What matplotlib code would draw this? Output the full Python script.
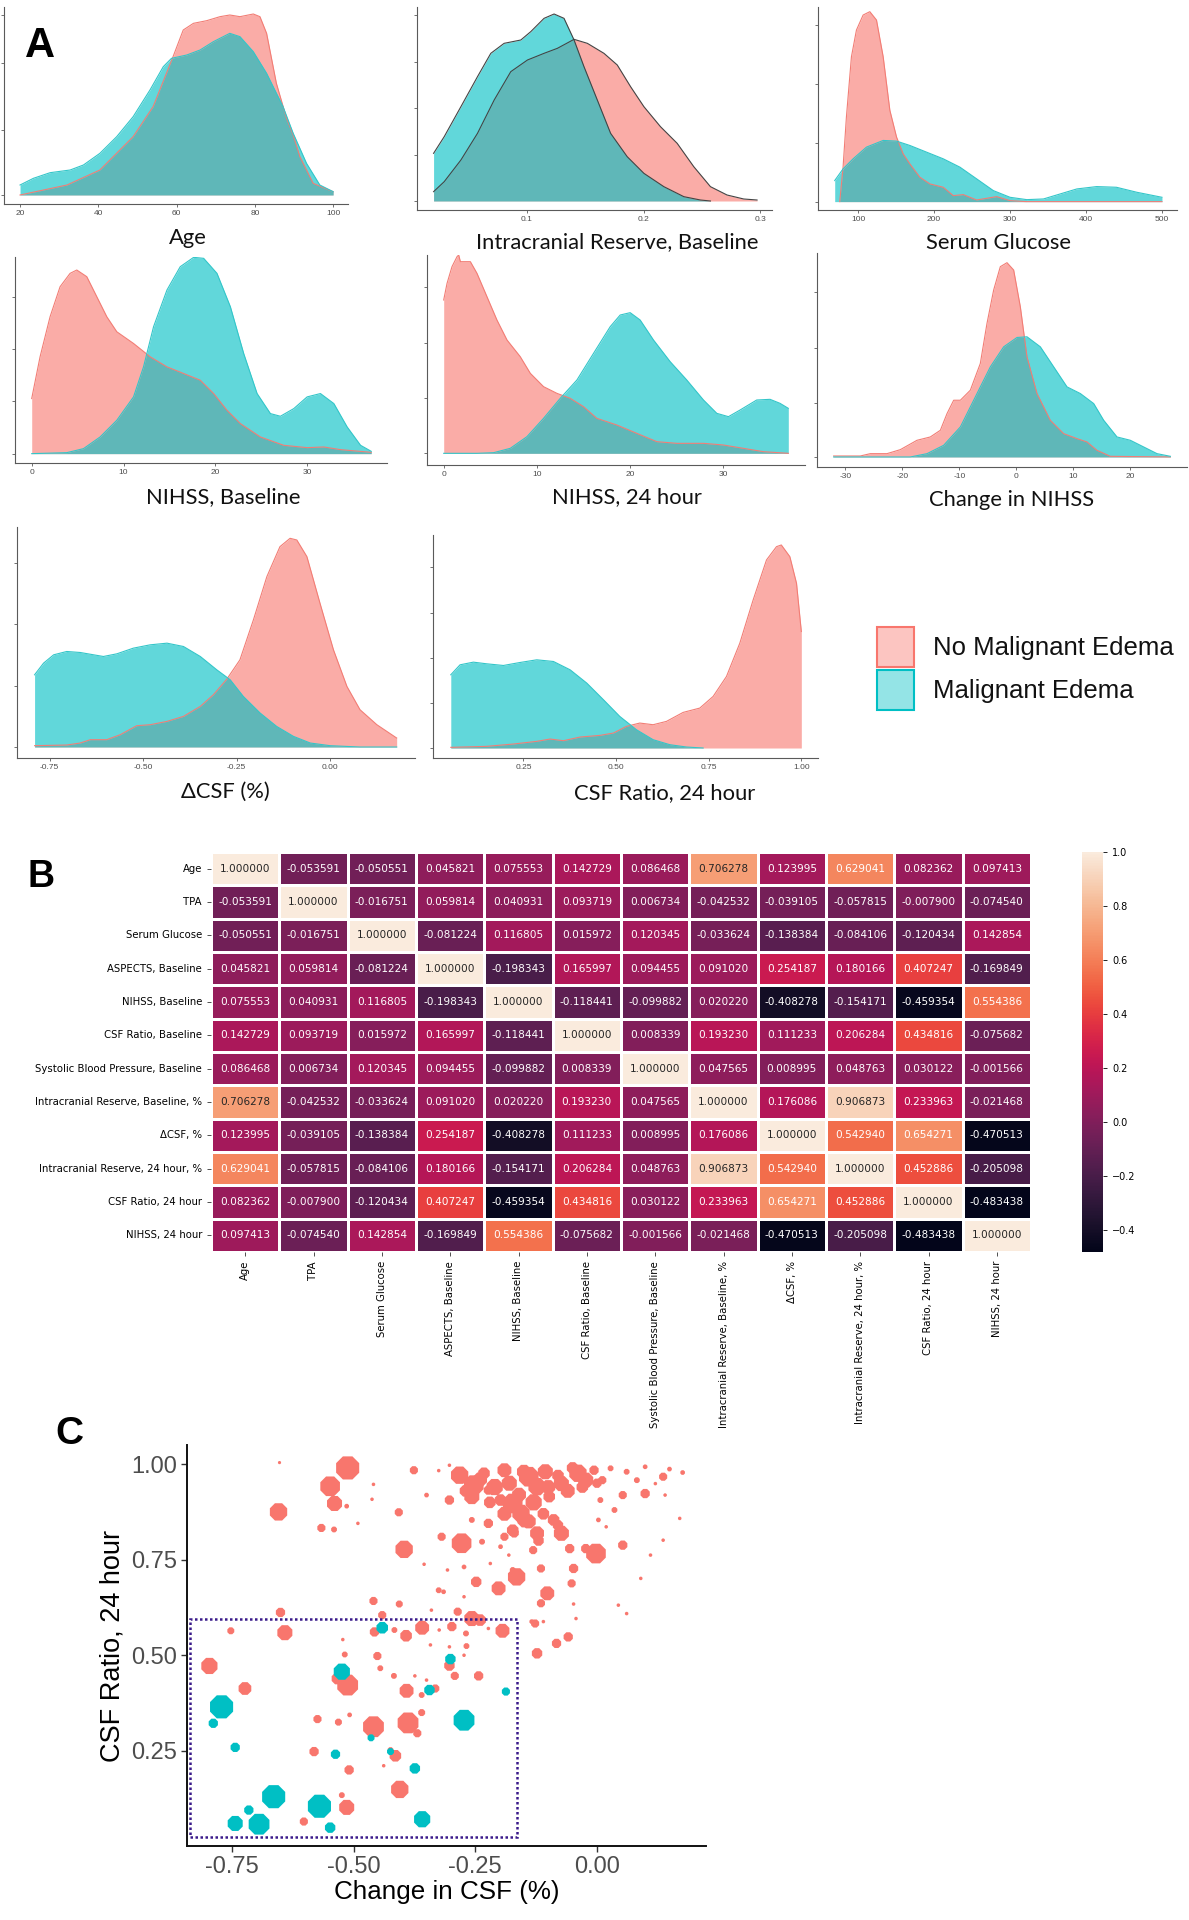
import numpy as np
import matplotlib
matplotlib.use("Agg")
import matplotlib.pyplot as plt
from matplotlib.patches import Rectangle
import seaborn as sns

W, H = 1189, 1920
RED = "#F8766D"
TEAL = "#00BFC4"
GGFONT = ["Liberation Sans", "DejaVu Sans"]
TITLEFONT = ["Lato", "DejaVu Sans"]

# ---------------- Panel A: density curves (relative heights) ----------------
AGE_NO_X = [20, 32, 40.4, 48.9, 54, 59.1, 61.7, 64.3, 67.7, 71.1, 73.6, 76.2, 79.6, 81.3, 83, 85.5, 88.1, 89.8, 91.5, 94.9, 100]
AGE_NO_Y = [0, 30, 75, 175, 265, 415, 495, 515, 523, 535, 540, 535, 543, 535, 485, 335, 230, 180, 115, 35, 10]
AGE_ME_X = [20, 23.4, 27.7, 32.8, 36.2, 40.4, 44.7, 48.9, 53.2, 56.6, 58.7, 62.6, 66, 69.4, 73.6, 76.2, 79.6, 83, 87.2, 89.8, 93.2, 96.6, 100]
AGE_ME_Y = [30, 50, 67, 75, 90, 125, 175, 235, 315, 385, 410, 420, 435, 460, 485, 475, 430, 365, 265, 185, 95, 30, 10]

ICR_NO_X = [0.0202, 0.0293, 0.0436, 0.0578, 0.0721, 0.0863, 0.1006, 0.1148, 0.1262, 0.1405, 0.1519, 0.1661, 0.1775, 0.1889, 0.2003, 0.2145, 0.2288, 0.2430, 0.2573, 0.2715, 0.2858, 0.2972]
ICR_NO_Y = [28, 58, 123, 203, 303, 388, 423, 443, 458, 485, 473, 443, 408, 343, 283, 223, 173, 103, 43, 18, 6, 3]
ICR_ME_X = [0.0202, 0.0293, 0.0436, 0.0578, 0.0692, 0.0806, 0.0949, 0.1034, 0.1148, 0.1234, 0.1319, 0.1405, 0.1490, 0.1604, 0.1718, 0.1860, 0.2003, 0.2174, 0.2345, 0.2487, 0.2573]
ICR_ME_Y = [143, 193, 283, 373, 443, 473, 483, 508, 548, 561, 548, 483, 403, 303, 203, 133, 83, 43, 13, 3, 0]

GLU_NO_X = [75.8, 80.2, 84.6, 91.2, 97.8, 106.6, 115.4, 124.2, 133, 141.8, 150.6, 159.3, 168.1, 181.3, 194.5, 212.1, 225.3, 238.5, 256.1, 282.4, 300, 322, 500]
GLU_NO_Y = [0, 103, 253, 433, 513, 558, 568, 543, 433, 273, 193, 143, 113, 73, 53, 43, 18, 21, 5, 15, 3, 0, 0]
GLU_ME_X = [69.2, 80.2, 93.4, 111, 133, 150.6, 168.1, 190.1, 212.1, 234.1, 256.1, 278, 300, 322, 344, 366, 388, 414, 440, 467, 500]
GLU_ME_Y = [63, 98, 128, 163, 183, 181, 168, 148, 128, 103, 68, 33, 13, 6, 8, 23, 38, 45, 43, 28, 13]

NB_NO_X = [0, 0.91, 2, 3.09, 4.18, 4.91, 6, 7.09, 8.18, 9.27, 11.09, 12.91, 14.73, 16.55, 18.36, 19.82, 21.27, 22.73, 24.91, 27.45, 30, 31.82, 33.64, 36.98]
NB_NO_Y = [165, 290, 410, 500, 540, 550, 530, 470, 410, 365, 330, 290, 260, 240, 220, 180, 130, 90, 50, 25, 18, 20, 12, 4]
NB_ME_X = [0, 3.82, 5.64, 7.45, 9.27, 11.09, 12.18, 13.27, 14.73, 16.18, 17.64, 18.73, 20.18, 21.64, 23.09, 24.55, 26, 27.09, 28.55, 30, 31.45, 32.91, 34.36, 35.82, 36.98]
NB_ME_Y = [0, 3, 15, 50, 100, 170, 260, 380, 490, 560, 588, 585, 540, 440, 300, 180, 120, 112, 135, 170, 180, 150, 80, 25, 7]

N24_NO_X = [0, 0.36, 0.89, 1.43, 1.61, 1.79, 2.86, 3.57, 4.64, 5.71, 6.79, 8.21, 9.29, 10.71, 12.14, 13.57, 15, 16.43, 18.57, 20.71, 22.86, 25, 27.86, 30, 32.14, 34.29, 36.96]
N24_NO_Y = [460, 510, 560, 590, 595, 575, 575, 540, 470, 400, 340, 290, 240, 200, 180, 165, 140, 105, 85, 60, 35, 30, 30, 25, 15, 5, 0]
N24_ME_X = [0, 3.57, 5.36, 7.14, 8.93, 10.71, 12.5, 14.29, 16.07, 17.86, 18.93, 20, 21.07, 22.5, 24.29, 26.07, 27.86, 29.29, 30.54, 31.79, 33.57, 35, 36.07, 36.96]
N24_ME_Y = [0, 0, 2, 15, 50, 105, 165, 220, 300, 380, 415, 422, 400, 340, 275, 220, 160, 120, 110, 130, 160, 162, 150, 135]

CN_NO_X = [-32.05, -27.37, -25.61, -22.69, -20.35, -17.43, -15.09, -13.33, -12.16, -10.99, -9.82, -8.07, -6.32, -5.15, -3.98, -2.81, -1.64, -0.47, 0.70, 1.87, 3.63, 5.96, 8.30, 10.64, 12.40, 14.15, 16.49, 27.02]
CN_NO_Y = [3, 3, 10, 10, 22, 50, 60, 80, 130, 170, 170, 200, 280, 400, 500, 570, 582, 560, 450, 300, 190, 110, 70, 55, 45, 20, 2, 0]
CN_ME_X = [-32.05, -18.6, -15.67, -12.75, -9.82, -6.9, -4.56, -2.22, 0.12, 1.87, 4.21, 6.55, 8.89, 11.23, 13.57, 15.32, 17.66, 20, 22.34, 24.68, 27.02]
CN_ME_Y = [0, 0, 10, 35, 90, 190, 270, 330, 358, 360, 330, 270, 210, 190, 160, 110, 60, 50, 30, 10, 2]

DC_NO_X = [-0.790, -0.704, -0.668, -0.641, -0.597, -0.561, -0.517, -0.481, -0.436, -0.392, -0.347, -0.312, -0.276, -0.241, -0.205, -0.169, -0.134, -0.107, -0.089, -0.062, -0.027, 0.009, 0.045, 0.080, 0.125, 0.178]
DC_NO_Y = [4, 6, 12, 22, 22, 37, 64, 67, 77, 92, 122, 157, 204, 262, 382, 512, 602, 627, 622, 572, 432, 292, 182, 112, 67, 27]
DC_ME_X = [-0.790, -0.766, -0.739, -0.704, -0.668, -0.632, -0.606, -0.570, -0.526, -0.481, -0.436, -0.392, -0.347, -0.303, -0.267, -0.232, -0.187, -0.143, -0.098, -0.053, 0.0, 0.080, 0.178]
DC_ME_Y = [217, 252, 277, 287, 284, 277, 272, 280, 297, 307, 312, 302, 272, 232, 202, 152, 102, 62, 32, 12, 4, 0, 0]

CR_NO_X = [0.054, 0.151, 0.223, 0.286, 0.322, 0.358, 0.403, 0.457, 0.493, 0.528, 0.564, 0.600, 0.636, 0.681, 0.726, 0.762, 0.798, 0.834, 0.870, 0.906, 0.933, 0.946, 0.969, 0.987, 1.0]
CR_NO_Y = [2, 5, 12, 20, 27, 22, 33, 38, 45, 65, 75, 70, 80, 107, 120, 155, 215, 315, 445, 565, 605, 610, 575, 495, 350]
CR_ME_X = [0.054, 0.079, 0.115, 0.151, 0.196, 0.241, 0.286, 0.331, 0.376, 0.421, 0.466, 0.510, 0.555, 0.600, 0.645, 0.690, 0.735]
CR_ME_Y = [220, 250, 258, 253, 248, 257, 265, 260, 235, 195, 145, 95, 55, 25, 10, 3, 0]

DENSITY_TITLES = ["Age", "Intracranial Reserve, Baseline", "Serum Glucose",
                  "NIHSS, Baseline", "NIHSS, 24 hour", "Change in NIHSS",
                  "\u0394CSF (%)", "CSF Ratio, 24 hour"]
DENSITY_XTICKS = [[20, 40, 60, 80, 100], [0.1, 0.2, 0.3], [100, 200, 300, 400, 500],
                  [0, 10, 20, 30], [0, 10, 20, 30], [-30, -20, -10, 0, 10, 20],
                  [-0.75, -0.50, -0.25, 0.00], [0.25, 0.50, 0.75, 1.00]]
DENSITY_XTICKLABELS = [["20", "40", "60", "80", "100"], ["0.1", "0.2", "0.3"],
                       ["100", "200", "300", "400", "500"], ["0", "10", "20", "30"],
                       ["0", "10", "20", "30"], ["-30", "-20", "-10", "0", "10", "20"],
                       ["-0.75", "-0.50", "-0.25", "0.00"], ["0.25", "0.50", "0.75", "1.00"]]
DENSITY_DATA = [(AGE_NO_X, AGE_NO_Y, AGE_ME_X, AGE_ME_Y), (ICR_NO_X, ICR_NO_Y, ICR_ME_X, ICR_ME_Y),
                (GLU_NO_X, GLU_NO_Y, GLU_ME_X, GLU_ME_Y), (NB_NO_X, NB_NO_Y, NB_ME_X, NB_ME_Y),
                (N24_NO_X, N24_NO_Y, N24_ME_X, N24_ME_Y), (CN_NO_X, CN_NO_Y, CN_ME_X, CN_ME_Y),
                (DC_NO_X, DC_NO_Y, DC_ME_X, DC_ME_Y), (CR_NO_X, CR_NO_Y, CR_ME_X, CR_ME_Y)]
LEGEND_LABELS = ["No Malignant Edema", "Malignant Edema"]

# ---------------- Panel B: correlation matrix ----------------
CORR_LABELS = ["Age", "TPA", "Serum Glucose", "ASPECTS, Baseline", "NIHSS, Baseline",
               "CSF Ratio, Baseline", "Systolic Blood Pressure, Baseline",
               "Intracranial Reserve, Baseline, %", "\u0394CSF, %",
               "Intracranial Reserve, 24 hour, %", "CSF Ratio, 24 hour", "NIHSS, 24 hour"]
CORR = [
    [1.000000, -0.053591, -0.050551, 0.045821, 0.075553, 0.142729, 0.086468, 0.706278, 0.123995, 0.629041, 0.082362, 0.097413],
    [-0.053591, 1.000000, -0.016751, 0.059814, 0.040931, 0.093719, 0.006734, -0.042532, -0.039105, -0.057815, -0.007900, -0.074540],
    [-0.050551, -0.016751, 1.000000, -0.081224, 0.116805, 0.015972, 0.120345, -0.033624, -0.138384, -0.084106, -0.120434, 0.142854],
    [0.045821, 0.059814, -0.081224, 1.000000, -0.198343, 0.165997, 0.094455, 0.091020, 0.254187, 0.180166, 0.407247, -0.169849],
    [0.075553, 0.040931, 0.116805, -0.198343, 1.000000, -0.118441, -0.099882, 0.020220, -0.408278, -0.154171, -0.459354, 0.554386],
    [0.142729, 0.093719, 0.015972, 0.165997, -0.118441, 1.000000, 0.008339, 0.193230, 0.111233, 0.206284, 0.434816, -0.075682],
    [0.086468, 0.006734, 0.120345, 0.094455, -0.099882, 0.008339, 1.000000, 0.047565, 0.008995, 0.048763, 0.030122, -0.001566],
    [0.706278, -0.042532, -0.033624, 0.091020, 0.020220, 0.193230, 0.047565, 1.000000, 0.176086, 0.906873, 0.233963, -0.021468],
    [0.123995, -0.039105, -0.138384, 0.254187, -0.408278, 0.111233, 0.008995, 0.176086, 1.000000, 0.542940, 0.654271, -0.470513],
    [0.629041, -0.057815, -0.084106, 0.180166, -0.154171, 0.206284, 0.048763, 0.906873, 0.542940, 1.000000, 0.452886, -0.205098],
    [0.082362, -0.007900, -0.120434, 0.407247, -0.459354, 0.434816, 0.030122, 0.233963, 0.654271, 0.452886, 1.000000, -0.483438],
    [0.097413, -0.074540, 0.142854, -0.169849, 0.554386, -0.075682, -0.001566, -0.021468, -0.470513, -0.205098, -0.483438, 1.000000],
]

# ---------------- Panel C: scatter (x = change in CSF, y = CSF ratio 24 h, d = point size) ----------------
NO_X = [-0.652, -0.512, -0.548, -0.539, -0.514, -0.654, -0.566, -0.540, -0.491, -0.459,
        -0.462, -0.407, -0.396, -0.355, -0.350, -0.376, -0.325, -0.303, -0.282, -0.253,
        -0.257, -0.232, -0.223, -0.190, -0.173, -0.198, -0.156, -0.140, -0.123, -0.106,
        -0.098, -0.073, -0.039, -0.023, -0.006, 0.011, 0.028, 0.061, 0.082, 0.099,
        0.120, 0.136, 0.149, 0.176, 0.170, 0.136, 0.110, 0.090, 0.099, 0.140,
        0.053, 0.053, 0.036, 0.019, -0.002, -0.023, -0.056, -0.048, -0.052, -0.073,
        -0.089, -0.123, -0.148, -0.173, -0.190, -0.223, -0.257, -0.278, -0.303, -0.319,
        -0.236, -0.198, -0.131, -0.115, -0.165, -0.173, -0.202, -0.248, -0.102, -0.115,
        -0.043, 0.044, 0.061, -0.219, -0.273, -0.307, -0.325, -0.315, -0.273, -0.286,
        -0.257, -0.240, -0.194, -0.127, -0.110, -0.123, -0.083, -0.059, -0.079, -0.181,
        -0.340, -0.324, -0.298, -0.269, -0.223, -0.459, -0.406, -0.441, -0.457, -0.416,
        -0.392, -0.359, -0.650, -0.641, -0.752, -0.796, -0.723, -0.522, -0.518, -0.451,
        -0.445, -0.417, -0.391, -0.360, -0.350, -0.374, -0.342, -0.332, -0.303, -0.292,
        -0.268, -0.243, -0.303, -0.273, -0.512, -0.533, -0.574, -0.531, -0.508, -0.459,
        -0.388, -0.369, -0.360, -0.414, -0.424, -0.438, -0.581, -0.509, -0.405, -0.514,
        -0.524, -0.602, -0.048, -0.134, 0.003, 0.007,
        -0.240, -0.210, -0.180, -0.160, -0.130, -0.100, -0.080, -0.060, -0.030, -0.150,
        -0.190, -0.140, -0.110, -0.220, -0.270, -0.050, 0.000, -0.080, -0.170, -0.120]
NO_Y = [1.004, 0.990, 0.942, 0.897, 0.890, 0.875, 0.833, 0.829, 0.845, 0.947,
        0.908, 0.874, 0.777, 0.738, 0.919, 0.984, 0.983, 0.997, 0.971, 0.945,
        0.915, 0.976, 0.932, 0.984, 0.897, 0.906, 0.871, 0.967, 0.941, 0.980,
        0.915, 0.949, 0.976, 0.958, 0.984, 0.958, 0.989, 0.980, 0.958, 0.993,
        0.949, 0.967, 0.987, 0.978, 0.858, 0.801, 0.762, 0.701, 0.923, 0.919,
        0.788, 0.919, 0.880, 0.836, 0.766, 0.779, 0.779, 0.727, 0.688, 0.819,
        0.854, 0.819, 0.854, 0.827, 0.810, 0.845, 0.854, 0.793, 0.906, 0.810,
        0.797, 0.784, 0.775, 0.727, 0.705, 0.723, 0.675, 0.692, 0.662, 0.636,
        0.596, 0.631, 0.609, 0.740, 0.731, 0.723, 0.670, 0.666, 0.653, 0.614,
        0.596, 0.592, 0.564, 0.583, 0.588, 0.505, 0.531, 0.548, 0.819, 0.762,
        0.618, 0.566, 0.575, 0.557, 0.570, 0.642, 0.634, 0.605, 0.561, 0.566,
        0.551, 0.572, 0.612, 0.559, 0.564, 0.472, 0.413, 0.541, 0.502, 0.498,
        0.466, 0.446, 0.407, 0.396, 0.435, 0.446, 0.527, 0.413, 0.473, 0.446,
        0.524, 0.446, 0.522, 0.500, 0.422, 0.439, 0.333, 0.325, 0.344, 0.313,
        0.323, 0.296, 0.350, 0.237, 0.252, 0.211, 0.248, 0.200, 0.149, 0.102,
        0.134, 0.065, 0.634, 0.588, 0.854, 0.906,
        0.960, 0.940, 0.950, 0.920, 0.900, 0.940, 0.970, 0.930, 0.940, 0.980,
        0.870, 0.850, 0.870, 0.900, 0.930, 0.990, 0.950, 0.840, 0.820, 0.800]
NO_D = [2.7, 20, 17, 13, 4, 15, 7, 5, 3, 3,
        3, 7, 15, 3, 4, 7, 3, 3, 15, 17,
        13, 10, 8, 12, 17, 10, 15, 17, 15, 13,
        10, 13, 15, 13, 8, 7, 5, 5, 5, 4,
        3, 7, 4, 4, 3, 3, 3, 3, 8, 3,
        8, 7, 5, 3, 17, 8, 8, 8, 7, 13,
        10, 12, 13, 10, 7, 8, 5, 17, 8, 7,
        5, 4, 7, 7, 15, 5, 12, 9, 12, 7,
        3, 3, 3, 3, 4, 3, 5, 4, 3, 7,
        13, 10, 12, 7, 3, 9, 8, 8, 5, 3,
        3, 3, 8, 5, 3, 7, 6, 7, 8, 5,
        10, 12, 8, 13, 6, 14, 11, 3, 5, 7,
        5, 5, 12, 5, 3, 3, 3, 7, 9, 7,
        5, 8, 3, 3, 18, 10, 7, 6, 4, 18,
        18, 7, 6, 10, 5, 3, 8, 8, 15, 13,
        5, 7, 3, 4, 4, 5,
        12, 14, 13, 12, 14, 12, 10, 12, 10, 12,
        12, 12, 10, 10, 10, 10, 8, 9, 8, 9]
ME_X = [-0.441, -0.524, -0.301, -0.344, -0.187, -0.771, -0.788, -0.743, -0.537, -0.464,
        -0.424, -0.374, -0.273, -0.664, -0.570, -0.715, -0.743, -0.694, -0.548, -0.359]
ME_Y = [0.572, 0.457, 0.490, 0.409, 0.405, 0.365, 0.322, 0.259, 0.241, 0.284,
        0.248, 0.204, 0.330, 0.130, 0.105, 0.095, 0.060, 0.058, 0.049, 0.071]
ME_D = [10, 14, 9, 9, 7, 20, 8, 8, 8, 6, 6, 9, 18, 20, 20, 8, 13, 18, 9, 14]
BOX_X = (-0.835, -0.165)
BOX_Y = (0.025, 0.596)

# ---------------- layout (pixel boxes in the 1189x1920 canvas) ----------------
DENSITY_BOXES = [(4, 7, 348, 204), (417, 7, 772, 210), (818, 7, 1177, 210),
                 (15, 257, 387, 463), (427, 255, 805, 465), (817, 253, 1187, 467),
                 (17, 527, 415, 758), (433, 535, 818, 758)]
DENSITY_XLIM = [(15.9, 103.8), (0.006, 0.31), (47.2, 519.8), (-1.82, 38.7),
                (-1.79, 38.75), (-34.97, 29.94), (-0.837, 0.227), (0.006, 1.045)]
DENSITY_YLIM = [(-27, 564), (-27, 582), (-25, 582), (-28, 589),
                (-35, 595), (-30, 611), (-33, 661), (-30, 640)]
DENSITY_YTICKS = [[0, 195, 397, 540], [0, 138, 278, 418, 558], [0, 175, 351, 528],
                  [0, 157, 313, 470], [0, 166, 332, 498], [0, 163, 327, 493],
                  [0, 184, 369, 554], [0, 135, 271, 407, 543]]
TITLE_POS = [(188, 238), (617, 242), (998, 243), (223, 497), (627, 497),
             (1012, 500), (225, 792), (665, 793)]

fig = plt.figure(figsize=(W / 100, H / 100), dpi=100)


def px_axes(l, t, r, b):
    return fig.add_axes([l / W, 1 - b / H, (r - l) / W, (b - t) / H])


for i, (nx, ny, mx, my) in enumerate(DENSITY_DATA):
    ax = px_axes(*DENSITY_BOXES[i])
    dark_edge = (i == 1)
    ax.fill_between(nx, 0, ny, color=RED, alpha=0.6, lw=0)
    ax.plot(nx, ny, color="#444444" if dark_edge else "#F27D75", lw=0.8)
    ax.fill_between(mx, 0, my, color=TEAL, alpha=0.62, lw=0)
    ax.plot(mx, my, color="#444444" if dark_edge else "#33C6C9", lw=0.8)
    ax.set_xlim(*DENSITY_XLIM[i])
    ax.set_ylim(*DENSITY_YLIM[i])
    ax.set_xticks(DENSITY_XTICKS[i])
    ax.set_xticklabels(DENSITY_XTICKLABELS[i], fontsize=6, color="#4D4D4D",
                       family=GGFONT)
    ax.set_yticks(DENSITY_YTICKS[i])
    ax.set_yticklabels([])
    for s in ("top", "right"):
        ax.spines[s].set_visible(False)
    for s in ("left", "bottom"):
        ax.spines[s].set_color("#5A5A5A")
        ax.spines[s].set_linewidth(0.8)
    ax.tick_params(length=2, width=0.6, color="#5A5A5A", pad=2)
    cx, cy = TITLE_POS[i]
    fig.text(cx / W, 1 - cy / H, DENSITY_TITLES[i], ha="center", va="center",
             fontsize=15.8, family=TITLEFONT, color="#111111")

# legend drawn as two swatches with labels
for j, (col, lab) in enumerate(zip([RED, TEAL], LEGEND_LABELS)):
    top = 627 + j * 43
    fig.patches.append(Rectangle((877 / W, 1 - (top + 40) / H), 37 / W, 40 / H,
                                 transform=fig.transFigure, facecolor=col, alpha=0.42,
                                 edgecolor="none"))
    fig.patches.append(Rectangle((877 / W, 1 - (top + 40) / H), 37 / W, 40 / H,
                                 transform=fig.transFigure, facecolor="none",
                                 edgecolor=col, lw=1.5))
    fig.text(933 / W, 1 - (top + 21) / H, lab, fontsize=18.5, family=GGFONT,
             va="center", ha="left", color="#111111")

# panel letters
fig.text(25 / W, 1 - 57 / H, "A", fontsize=30, fontweight="bold", family=GGFONT, va="baseline")
fig.text(27 / W, 1 - 887 / H, "B", fontsize=27, fontweight="bold", family=GGFONT, va="baseline")
fig.text(55 / W, 1 - 1444 / H, "C", fontsize=28, fontweight="bold", family=GGFONT, va="baseline")

# ---------------- Panel B heatmap ----------------
ax_hm = px_axes(211, 852, 1031, 1252)
cax = px_axes(1082, 852, 1103, 1252)
sns.heatmap(np.array(CORR), ax=ax_hm, cbar_ax=cax, cmap="rocket", annot=True,
            fmt=".6f", annot_kws={"size": 7.6}, linewidths=1.0, linecolor="white",
            xticklabels=CORR_LABELS, yticklabels=CORR_LABELS)
ax_hm.tick_params(length=3, width=0.6, color="#333333")
ax_hm.set_yticklabels(CORR_LABELS, rotation=0, fontsize=7.3)
ax_hm.set_xticklabels(CORR_LABELS, rotation=90, fontsize=7.3)
cax.tick_params(labelsize=7, length=3, width=0.6)

# ---------------- Panel C scatter ----------------
axc = px_axes(187, 1445, 706, 1846)
axc.scatter(NO_X, NO_Y, s=(np.array(NO_D) * 0.9) ** 2, marker="8", color=RED,
            linewidths=0, zorder=2)
axc.scatter(ME_X, ME_Y, s=(np.array(ME_D) * 0.9) ** 2, marker="8", color=TEAL,
            linewidths=0, zorder=3)
axc.add_patch(Rectangle((BOX_X[0], BOX_Y[0]), BOX_X[1] - BOX_X[0], BOX_Y[1] - BOX_Y[0],
                        fill=False, edgecolor="#3A1A8A", lw=1.8, ls=(0, (1, 1)), zorder=4))
axc.set_xlim(-0.842, 0.224)
axc.set_ylim(0.001, 1.050)
axc.set_xticks([-0.75, -0.50, -0.25, 0.00])
axc.set_xticklabels(["-0.75", "-0.50", "-0.25", "0.00"], family=GGFONT, fontsize=17,
                    color="#4D4D4D")
axc.set_yticks([0.25, 0.50, 0.75, 1.00])
axc.set_yticklabels(["0.25", "0.50", "0.75", "1.00"], family=GGFONT, fontsize=17,
                    color="#4D4D4D")
for s in ("top", "right"):
    axc.spines[s].set_visible(False)
for s in ("left", "bottom"):
    axc.spines[s].set_linewidth(1.4)
    axc.spines[s].set_color("#111111")
axc.tick_params(length=4, width=1.0, color="#333333", pad=3)
axc.set_xlabel("Change in CSF (%)", family=GGFONT, fontsize=18.7, labelpad=2)
axc.set_ylabel("CSF Ratio, 24 hour", family=GGFONT, fontsize=19.5, labelpad=4)

fig.savefig("out.png", dpi=100)
